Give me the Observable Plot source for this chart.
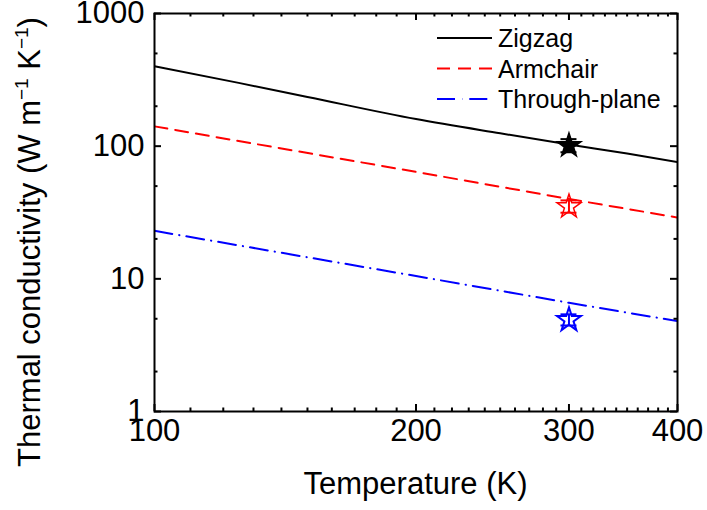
<!DOCTYPE html>
<html><head><meta charset="utf-8">
<script src="https://cdn.jsdelivr.net/npm/d3@7"></script>
<script src="https://cdn.jsdelivr.net/npm/@observablehq/plot@0.6"></script>
<style>
body{margin:0;background:#fff;}
#wrap{position:relative;width:707px;height:510px;font-family:"Liberation Sans",Arial,sans-serif;}
#wrap svg{display:block;}
</style>
</head><body><div id="wrap"></div>
<script>
// ---- data ----
const zigzagT = [100, 125, 150, 200, 250, 300, 350, 400];
const zigzagK = [400, 300, 235, 160, 125, 103, 88, 76];
const armchairT = [100, 200, 300, 400];
const armchairK = [141, 64, 40, 29];
const throughT = [100, 200, 300, 400];
const throughK = [23, 10.5, 6.6, 4.8];
const expT = [300, 300, 300];
const expK = [101, 35, 4.9];
const expLow = [90, 31.5, 4.45];
const expHigh = [113, 39, 5.4];
const seriesNames = ["Zigzag", "Armchair", "Through-plane"];
const seriesColors = ["#000000", "#ff0000", "#0000ff"];
const seriesDash = [null, "13,8", "18,7,0.3,7"];
const xMajor = [100, 200, 300, 400];
const xMinor = [110,120,130,140,150,160,170,180,190,210,220,230,240,250,260,270,280,290,310,320,330,340,350,360,370,380,390];
const yMajor = [1, 10, 100, 1000];
const yMinor = [2, 5, 20, 50, 200, 500];

// ---- layout ----
const W = 707, H = 510, mL = 154, mR = 30, mT = 13, mB = 99;
const pw = W - mL - mR, ph = H - mT - mB;
const majLen = 7, minLen = 3.5;
const font = '"Liberation Sans", Arial, sans-serif';
const fs = 31;

const lineData = [
  zigzagT.map((t, i) => ({T: t, k: zigzagK[i], s: 0})),
  armchairT.map((t, i) => ({T: t, k: armchairK[i], s: 1})),
  throughT.map((t, i) => ({T: t, k: throughK[i], s: 2}))
];
const expData = expT.map((t, i) => ({T: t, k: expK[i], lo: expLow[i], hi: expHigh[i], s: i}));

const marks = [];
lineData.forEach((d, s) => {
  marks.push(Plot.line(d, {x: "T", y: "k", stroke: seriesColors[s], strokeWidth: 2,
    strokeDasharray: seriesDash[s], curve: s === 0 ? "monotone-x" : "linear", clip: true}));
});
expData.forEach((d) => {
  const c = seriesColors[d.s];
  marks.push(Plot.ruleX([d], {x: "T", y1: "lo", y2: "hi", stroke: c, strokeWidth: 2}));
  marks.push(Plot.ruleY([d], {y: "lo", x1: "T", x2: "T", insetLeft: -8, insetRight: -8, stroke: c, strokeWidth: 2}));
  marks.push(Plot.ruleY([d], {y: "hi", x1: "T", x2: "T", insetLeft: -8, insetRight: -8, stroke: c, strokeWidth: 2}));
  marks.push(Plot.dot([d], {x: "T", y: "k", symbol: "star", r: 7.5,
    fill: d.s === 0 ? c : "none", stroke: c, strokeWidth: d.s === 2 ? 2 : 1.5}));
});
marks.push(Plot.tickX(xMajor, {x: d => d, insetTop: ph - majLen, stroke: "#000", strokeWidth: 2}));
marks.push(Plot.tickX(xMajor, {x: d => d, insetBottom: ph - majLen, stroke: "#000", strokeWidth: 2}));
marks.push(Plot.tickX(xMinor, {x: d => d, insetTop: ph - minLen, stroke: "#000", strokeWidth: 2}));
marks.push(Plot.tickX(xMinor, {x: d => d, insetBottom: ph - minLen, stroke: "#000", strokeWidth: 2}));
marks.push(Plot.tickY(yMajor, {y: d => d, insetRight: pw - majLen, stroke: "#000", strokeWidth: 2}));
marks.push(Plot.tickY(yMajor, {y: d => d, insetLeft: pw - majLen, stroke: "#000", strokeWidth: 2}));
marks.push(Plot.tickY(yMinor, {y: d => d, insetRight: pw - minLen, stroke: "#000", strokeWidth: 2}));
marks.push(Plot.tickY(yMinor, {y: d => d, insetLeft: pw - minLen, stroke: "#000", strokeWidth: 2}));
marks.push(Plot.axisX({ticks: xMajor, tickSize: 0, tickPadding: 7, tickFormat: d => String(d), label: null, fontSize: fs}));
marks.push(Plot.axisY({ticks: yMajor, tickSize: 0, tickPadding: 10, tickFormat: d => String(d), label: null, fontSize: fs}));
marks.push(Plot.frame({stroke: "#000", strokeWidth: 2}));

const chart = Plot.plot({
  width: W, height: H, marginLeft: mL, marginRight: mR, marginTop: mT, marginBottom: mB,
  style: {fontFamily: font, fontSize: fs + "px", color: "#000", background: "#fff", overflow: "visible"},
  x: {type: "log", domain: [100, 400]},
  y: {type: "log", domain: [1, 1000]},
  marks
});
document.getElementById("wrap").appendChild(chart);

const svg = d3.select(chart);
svg.append("text")
  .attr("x", mL + pw / 2).attr("y", 494)
  .attr("text-anchor", "middle").attr("font-size", fs).attr("font-family", font).attr("fill", "#000")
  .text("Temperature (K)");
const yl = svg.append("text")
  .attr("transform", `translate(40,${mT + ph / 2 + 30}) rotate(-90)`)
  .attr("text-anchor", "middle").attr("font-size", fs).attr("font-family", font).attr("fill", "#000");
yl.append("tspan").text("Thermal conductivity (W m");
yl.append("tspan").attr("dy", -12).attr("font-size", 19).text("\u22121");
yl.append("tspan").attr("dy", 12).text(" K");
yl.append("tspan").attr("dy", -12).attr("font-size", 19).text("\u22121");
yl.append("tspan").attr("dy", 12).text(")");

const lg = svg.append("g");
seriesNames.forEach((name, i) => {
  const y = 38 + i * 30.5;
  lg.append("line").attr("x1", 437).attr("x2", 492).attr("y1", y).attr("y2", y)
    .attr("stroke", seriesColors[i]).attr("stroke-width", 2)
    .attr("stroke-dasharray", seriesDash[i]);
  lg.append("text").attr("x", 498).attr("y", y + 9).attr("font-size", 25).attr("font-family", font)
    .attr("text-anchor", "start").attr("fill", "#000").text(name);
});
</script>
</body></html>
